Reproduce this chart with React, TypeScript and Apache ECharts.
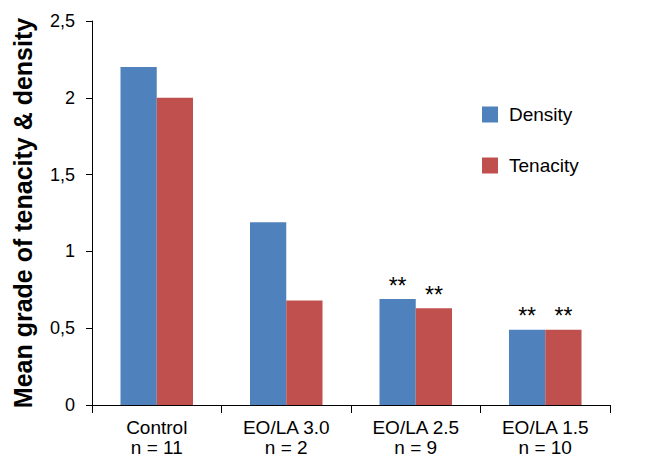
import React, { useEffect, useRef } from "react";
import * as echarts from "echarts";

const categories = ["Control\nn = 11", "EO/LA 3.0\nn = 2", "EO/LA 2.5\nn = 9", "EO/LA 1.5\nn = 10"];
const density = [2.2, 1.19, 0.69, 0.49];
const tenacity = [2.0, 0.68, 0.63, 0.49];
const densityStars = ["", "", "**", "**"];
const tenacityStars = ["", "", "**", "**"];
const yTicks = [0, 0.5, 1, 1.5, 2, 2.5];

const FONT = "Liberation Sans, Arial, sans-serif";

function mk(values: number[], stars: string[]) {
  return values.map((v, i) => ({
    value: v,
    label: {
      show: stars[i] !== "",
      formatter: stars[i],
    },
  }));
}

export default function App() {
  const ref = useRef<HTMLDivElement>(null);
  useEffect(() => {
    const chart = echarts.init(ref.current!, null, { renderer: "svg" });
    const starLabel = {
      position: "top",
      distance: 2,
      fontSize: 23,
      color: "#000",
      fontFamily: FONT,
    };
    chart.setOption({
      animation: false,
      textStyle: { fontFamily: FONT },
      grid: { left: 84, right: 28, top: 13, bottom: 55, containLabel: false, outerBoundsMode: "none" },
      legend: {
        orient: "vertical",
        left: 474,
        top: 97,
        padding: 0,
        itemWidth: 16,
        itemHeight: 16,
        itemGap: 32,
        icon: "rect",
        textStyle: { fontSize: 19, color: "#000", fontFamily: FONT, padding: [0, 0, 0, 6] },
        data: ["Density", "Tenacity"],
      },
      xAxis: {
        type: "category",
        data: categories,
        axisLine: { lineStyle: { color: "#000", width: 1 } },
        axisTick: { show: true, length: 8, lineStyle: { color: "#000" } },
        axisLabel: { fontSize: 19, color: "#000", lineHeight: 20, margin: 12, fontFamily: FONT },
      },
      yAxis: {
        type: "value",
        min: 0,
        max: 2.5,
        interval: 0.5,
        name: "Mean grade of tenacity & density",
        nameLocation: "middle",
        nameGap: 57,
        nameTextStyle: { fontSize: 25, fontWeight: "bold", color: "#000", fontFamily: FONT },
        axisLine: { show: true, lineStyle: { color: "#000", width: 1 } },
        axisTick: { show: true, length: 6, inside: false, lineStyle: { color: "#000" } },
        splitLine: { show: false },
        axisLabel: {
          fontSize: 18,
          color: "#000",
          margin: 17,
          fontFamily: FONT,
          formatter: (v: number) => (yTicks.includes(v) ? String(v).replace(".", ",") : ""),
        },
      },
      series: [
        {
          name: "Density",
          type: "bar",
          data: mk(density, densityStars),
          itemStyle: { color: "#4F81BD" },
          barGap: "0%",
          barCategoryGap: "44%",
          label: starLabel,
        },
        {
          name: "Tenacity",
          type: "bar",
          data: mk(tenacity, tenacityStars),
          itemStyle: { color: "#C0504D" },
          label: starLabel,
        },
      ],
    });
    return () => chart.dispose();
  }, []);
  return <div ref={ref} style={{ width: 630, height: 452 }} />;
}
